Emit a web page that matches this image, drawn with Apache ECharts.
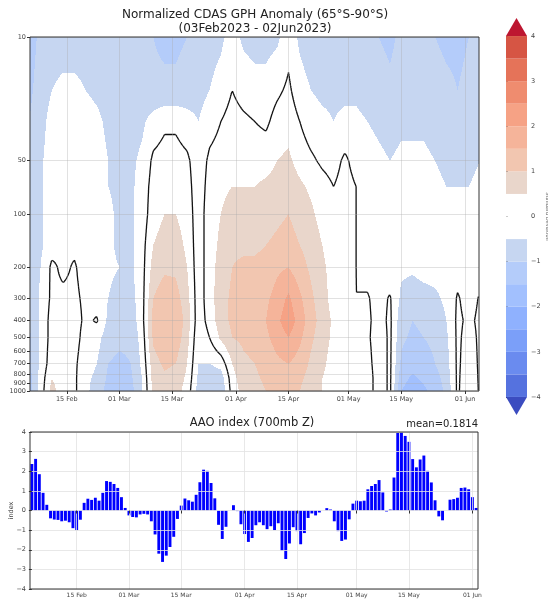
<!DOCTYPE html>
<html>
<head>
<meta charset="utf-8">
<script src="https://cdn.jsdelivr.net/npm/echarts@6/dist/echarts.min.js"></script>
<style>
html, body { margin: 0; padding: 0; background: #fff; }
#main { width: 548px; height: 599px; }
</style>
</head>
<body>
<div id="main"></div>
<script>
// anomaly grid: columns are days since 03 Feb 2023, rows are pressure levels (hPa)
const gridDays = [2,5,8,11,14,17,20,23,26,29,32,35,38,41,44,47,50,53,56,59,62,65,68,71,74,77,80,83,86,89,92,95,98,101,104,107,110,113,116,119,122];
const levels = [10,20,30,50,70,100,150,200,300,400,500,700,850,1000];

const anom10   = [-1.2,-0.9,-0.7,-0.7,-0.7,-0.7,-0.7,-0.8,-0.8,-0.8, -0.8,-1.0,-1.1,-1.1,-1.0,-0.8,-0.7,-0.6,-0.3,-0.6, -0.7,-0.7,-0.6,-0.2,-0.6,-0.8,-0.8,-0.8,-0.8,-0.8, -0.9,-1.0,-1.1,-0.9,-0.9,-0.9,-1.0,-1.1,-1.1,-1.0, -0.9];
const anom20   = [-1.1,-0.8,-0.5,-0.4,-0.4,-0.5,-0.6,-0.7,-0.8,-0.8, -0.8,-0.9,-0.9,-0.9,-0.8,-0.7,-0.5,-0.3,0.0,-0.2, -0.3,-0.3,-0.1,0.1,-0.3,-0.5,-0.6,-0.6,-0.6,-0.6, -0.7,-0.8,-0.9,-0.8,-0.7,-0.7,-0.8,-0.9,-1.0,-0.9, -0.8];
const anom30   = [-1.0,-0.7,-0.3,-0.2,-0.2,-0.3,-0.4,-0.6,-0.7,-0.7, -0.6,-0.3,-0.1,-0.1,-0.3,-0.5,-0.2,0.0,0.2,0.1, 0.0,-0.1,0.2,0.3,0.0,-0.3,-0.4,-0.5,-0.4,-0.4, -0.5,-0.6,-0.7,-0.6,-0.6,-0.6,-0.7,-0.8,-0.8,-0.8, -0.7];
const anom50   = [-1.0,-0.6,-0.2,-0.1,-0.1,-0.2,-0.3,-0.5,-0.6,-0.6, -0.4,0.1,0.2,0.2,0.1,-0.3,0.1,0.2,0.3,0.3, 0.3,0.3,0.5,0.6,0.3,0.1,-0.1,-0.2,0.1,-0.2, -0.3,-0.4,-0.5,-0.4,-0.4,-0.4,-0.5,-0.6,-0.6,-0.6, -0.5];
const anom70   = [-1.0,-0.6,-0.2,-0.1,-0.1,-0.2,-0.3,-0.5,-0.6,-0.6, -0.3,0.2,0.3,0.3,0.2,-0.3,0.2,0.4,0.5,0.5, 0.5,0.6,0.7,0.8,0.6,0.4,0.2,0.0,0.2,0.0, -0.2,-0.3,-0.4,-0.3,-0.3,-0.3,-0.4,-0.5,-0.5,-0.5, -0.4];
const anom100  = [-1.0,-0.6,-0.2,-0.1,-0.1,-0.2,-0.3,-0.4,-0.6,-0.6, -0.3,0.3,0.5,0.5,0.3,-0.3,0.3,0.5,0.7,0.7, 0.7,0.8,0.9,1.0,0.8,0.6,0.3,0.1,0.2,0.0, -0.2,-0.3,-0.3,-0.3,-0.2,-0.2,-0.3,-0.4,-0.4,-0.4, -0.3];
const anom150  = [-1.0,-0.6,-0.2,-0.1,-0.1,-0.2,-0.3,-0.4,-0.6,-0.6, -0.2,0.5,0.7,0.7,0.4,-0.3,0.3,0.6,0.9,0.9, 0.9,1.0,1.1,1.2,1.0,0.8,0.5,0.2,0.2,0.0, -0.2,-0.2,-0.3,-0.3,-0.3,-0.2,-0.3,-0.4,-0.3,-0.3, -0.3];
const anom200  = [-1.0,-0.5,0.1,-0.1,0.05,-0.2,-0.3,-0.4,-0.5,-0.6, -0.2,0.7,0.9,0.9,0.5,-0.3,0.3,0.7,1.0,1.1, 1.1,1.2,1.4,1.5,1.2,0.9,0.6,0.3,0.2,0.0, -0.2,-0.2,-0.3,-0.4,-0.4,-0.3,-0.3,-0.3,-0.2,-0.2, -0.2];
const anom300  = [-1.0,-0.4,0.1,0.1,0.1,-0.1,-0.2,-0.5,-0.7,-0.7, -0.2,1.0,1.3,1.2,0.7,-0.3,0.3,0.8,1.1,1.2, 1.3,1.4,1.7,2.1,1.6,1.1,0.7,0.3,0.2,0.0, 0.05,-0.2,0.05,-0.6,-0.8,-0.7,-0.6,-0.4,0.05,-0.2, 0.05];
const anom400  = [-1.0,-0.4,0.2,0.2,0.2,-0.1,0.05,-0.6,-0.8,-0.8, -0.2,1.2,1.5,1.4,0.8,-0.3,0.2,0.8,1.1,1.2, 1.3,1.5,1.9,2.3,1.8,1.2,0.8,0.4,0.3,0.1, 0.1,-0.2,0.1,-0.8,-1.0,-0.9,-0.8,-0.5,0.1,-0.1, 0.1];
const anom500  = [-1.1,-0.4,0.2,0.2,0.2,-0.2,-0.3,-0.8,-0.9,-0.9, -0.3,1.1,1.4,1.3,0.7,-0.4,0.0,0.6,1.0,1.1, 1.2,1.4,1.7,2.0,1.6,1.1,0.7,0.4,0.3,0.1, 0.1,-0.3,0.1,-0.9,-1.1,-1.0,-0.9,-0.6,0.1,-0.2, 0.1];
const anom700  = [-1.1,-0.4,0.3,0.2,0.1,-0.3,-0.5,-1.0,-1.1,-1.0, -0.4,0.8,1.1,1.0,0.5,-0.5,-0.5,-0.3,0.5,0.9, 1.0,1.2,1.4,1.5,1.3,0.9,0.6,0.3,0.3,0.1, 0.2,-0.3,0.1,-1.1,-1.3,-1.2,-1.0,-0.7,0.1,-0.3, 0.1];
const anom850  = [-1.2,-0.3,0.5,0.2,0.1,-0.4,-0.6,-1.1,-1.2,-1.1, -0.5,0.7,0.9,0.8,0.4,-0.6,-0.9,-0.8,0.3,0.8, 0.9,1.1,1.2,1.3,1.1,0.8,0.5,0.3,0.3,0.2, 0.3,-0.3,0.1,-1.3,-1.6,-1.4,-1.2,-0.8,0.1,-0.4, 0.1];
const anom1000 = [-1.2,-0.3,0.7,0.2,0.1,-0.4,-0.7,-1.2,-1.3,-1.2, -0.5,0.6,0.8,0.7,0.3,-0.7,-1.0,-0.9,0.2,0.7, 0.8,1.0,1.1,1.2,1.0,0.7,0.5,0.3,0.3,0.3, 0.3,-0.3,0.1,-1.5,-1.8,-1.6,-1.3,-0.9,0.1,-0.5, 0.1];
const anomRows = [anom10, anom20, anom30, anom50, anom70, anom100, anom150, anom200, anom300, anom400, anom500, anom700, anom850, anom1000];

// AAO index, one value per day from 03 Feb 2023
const aao = [
  2.37, 2.63, 1.85, 0.9, 0.29, -0.4, -0.46, -0.48, -0.55, -0.52,
  -0.6, -0.9, -1.0, -0.47, 0.39, 0.6, 0.54, 0.65, 0.5, 0.9,
  1.5, 1.46, 1.35, 1.15, 0.68, 0.13, -0.25, -0.33, -0.35, -0.2,
  -0.17, -0.2, -0.55, -1.22, -2.2, -2.62, -2.3, -1.86, -1.34, -0.43,
  0.25, 0.61, 0.52, 0.45, 0.8, 1.44, 2.08, 2.02, 1.4, 0.62,
  -0.73, -1.45, -0.83, 0.0, 0.27, -0.03, -0.7, -1.2, -1.6, -1.4,
  -0.75, -0.6, -0.75, -0.95, -0.8, -1.0, -0.65, -2.05, -2.47, -1.68,
  -0.85, -1.05, -1.72, -1.15, -0.38, -0.15, -0.25, -0.1, 0.0, 0.12,
  0.05, -0.55, -1.05, -1.55, -1.48, -0.45, 0.35, 0.5, 0.47, 0.5,
  1.08, 1.25, 1.35, 1.55, 0.92, -0.05, 0.05, 1.68, 3.95, 4.0,
  3.8, 3.5, 2.62, 2.2, 2.6, 2.8, 2.02, 1.43, 0.52, -0.3,
  -0.5, 0.0, 0.55, 0.58, 0.65, 1.15, 1.17, 1.08, 0.68, 0.13
];

const tickDays = [12, 26, 40, 57, 71, 87, 101, 118];
const tickLabels = ['15 Feb', '01 Mar', '15 Mar', '01 Apr', '15 Apr', '01 May', '15 May', '01 Jun'];
const pTicks = [10, 50, 100, 200, 300, 400, 500, 600, 700, 800, 900, 1000];
const cbTicks = [-4, -3, -2, -1, 0, 1, 2, 3, 4];
const bandEdges = [-4, -3.5, -3, -2.5, -2, -1.5, -1, -0.5, 0, 0.5, 1, 1.5, 2, 2.5, 3, 3.5, 4];
const bandColors = [
  '#3b4cc0', '#5572df', '#6a8bef', '#7b9ff9', '#8fb1fe', '#a2c0fe', '#b4ccfa', '#c6d6f1',
  '#ffffff', '#ffffff',
  '#e9d6cb', '#f2c6b0', '#f5b49a', '#f6a285', '#ef8c6f', '#e57359', '#d65544', '#bd1630'
];

const FONT = 'DejaVu Sans';
const minus = s => String(s).replace('-', '\u2212');

function bandIndex(v) {
  for (let k = 0; k < bandEdges.length; k++) if (v < bandEdges[k]) return k;
  return bandEdges.length;
}

function locate(nodes, pos) {
  let k = 0;
  while (k < nodes.length - 2 && pos > nodes[k + 1]) k++;
  const t = (pos - nodes[k]) / (nodes[k + 1] - nodes[k]);
  return [k, Math.max(0, Math.min(1, t))];
}

// filled levels (bilinear between grid nodes) + zero contour line
function renderField(params, api) {
  const cs = params.coordSys;
  const W = Math.round(cs.width), H = Math.round(cs.height);
  const xs = gridDays.map(d => api.coord([d, 2])[0]);
  const ys = levels.map(p => api.coord([gridDays[0], Math.log10(p)])[1]);
  const colLoc = [], rowLoc = [];
  for (let px = 0; px < W; px++) colLoc.push(locate(xs, cs.x + px + 0.5));
  for (let py = 0; py < H; py++) rowLoc.push(locate(ys, cs.y + py + 0.5));

  const rgb = bandColors.map(h => [parseInt(h.slice(1, 3), 16), parseInt(h.slice(3, 5), 16), parseInt(h.slice(5, 7), 16)]);
  const canvas = document.createElement('canvas');
  canvas.width = W; canvas.height = H;
  const ctx = canvas.getContext('2d');
  const img = ctx.createImageData(W, H);
  const vals = new Float32Array(W * H);
  for (let py = 0; py < H; py++) {
    const j = rowLoc[py][0], ty = rowLoc[py][1];
    const r0 = anomRows[j], r1 = anomRows[j + 1];
    for (let px = 0; px < W; px++) {
      const i = colLoc[px][0], tx = colLoc[px][1];
      const v = (r0[i] * (1 - tx) + r0[i + 1] * tx) * (1 - ty) + (r1[i] * (1 - tx) + r1[i + 1] * tx) * ty;
      vals[py * W + px] = v;
      const c = rgb[bandIndex(v)];
      const o = (py * W + px) * 4;
      img.data[o] = c[0]; img.data[o + 1] = c[1]; img.data[o + 2] = c[2]; img.data[o + 3] = 255;
    }
  }
  ctx.putImageData(img, 0, 0);

  let path = '';
  const ox = cs.x + 0.5, oy = cs.y + 0.5;
  const f = (x, y) => (ox + x).toFixed(1) + ' ' + (oy + y).toFixed(1);
  for (let py = 0; py < H - 1; py++) {
    for (let px = 0; px < W - 1; px++) {
      const a = vals[py * W + px], b = vals[py * W + px + 1];
      const c = vals[(py + 1) * W + px + 1], d = vals[(py + 1) * W + px];
      const pts = [];
      if ((a >= 0) !== (b >= 0)) pts.push([px + a / (a - b), py]);
      if ((b >= 0) !== (c >= 0)) pts.push([px + 1, py + b / (b - c)]);
      if ((d >= 0) !== (c >= 0)) pts.push([px + d / (d - c), py + 1]);
      if ((a >= 0) !== (d >= 0)) pts.push([px, py + a / (a - d)]);
      for (let k = 0; k + 1 < pts.length; k += 2) {
        path += 'M' + f(pts[k][0], pts[k][1]) + 'L' + f(pts[k + 1][0], pts[k + 1][1]);
      }
    }
  }
  return {
    type: 'group',
    children: [
      { type: 'image', style: { image: canvas, x: cs.x, y: cs.y, width: W, height: H } },
      { type: 'path', shape: { pathData: path || 'M0 0' }, style: { fill: 'none', stroke: '#111', lineWidth: 1.3 } }
    ]
  };
}

function renderBand(params, api) {
  const k = api.value(0);
  const color = bandColors[k];
  const last = bandColors.length - 1;
  if (k === 0 || k === last) {
    const edge = k === 0 ? bandEdges[0] : bandEdges[bandEdges.length - 1];
    const tip = k === 0 ? edge - 0.4 : edge + 0.4;
    return { type: 'polygon', shape: { points: [api.coord([0, edge]), api.coord([1, edge]), api.coord([0.5, tip])] }, style: { fill: color } };
  }
  const p1 = api.coord([0, bandEdges[k]]), p2 = api.coord([1, bandEdges[k - 1]]);
  return { type: 'rect', shape: { x: p1[0], y: p1[1], width: p2[0] - p1[0], height: p2[1] - p1[1] }, style: { fill: color } };
}

const dateLabel = v => tickLabels[tickDays.indexOf(Math.round(v))] || '';
const smallText = { fontSize: 6.5, color: '#444', fontFamily: FONT };
const titleText = { fontSize: 12, fontWeight: 'normal', color: '#222', lineHeight: 14, fontFamily: FONT };

const chart = echarts.init(document.getElementById('main'));
chart.setOption({
  animation: false,
  backgroundColor: '#fff',
  textStyle: { fontFamily: FONT },
  title: [
    { text: 'Normalized CDAS GPH Anomaly (65°S-90°S)\n(03Feb2023 - 02Jun2023)', left: 255, top: 8, textAlign: 'center', padding: 0, textStyle: titleText },
    { text: 'AAO index (700mb Z)', left: 252, top: 416, textAlign: 'center', padding: 0, textStyle: { ...titleText, fontSize: 11.5 } },
    { text: 'mean=0.1814', right: 70, top: 418, padding: 0,
      textStyle: { fontSize: 10, fontWeight: 'normal', color: '#222', lineHeight: 12, fontFamily: FONT } }
  ],
  grid: [
    { left: 30, top: 37, width: 449, height: 354, outerBoundsMode: 'none', containLabel: false, show: true, borderColor: '#333', borderWidth: 1, backgroundColor: 'transparent', z: 5 },
    { left: 30, top: 432, width: 448, height: 157, outerBoundsMode: 'none', containLabel: false, show: true, borderColor: '#333', borderWidth: 1, backgroundColor: 'transparent', z: 5 },
    { left: 506, top: 18, width: 21, height: 397, outerBoundsMode: 'none', containLabel: false }
  ],
  xAxis: [
    { type: 'value', gridIndex: 0, min: 2.2, max: 121.7, z: 4,
      axisLine: { show: false },
      axisTick: { show: true, customValues: tickDays, length: 3, lineStyle: { color: '#333' } },
      axisLabel: { customValues: tickDays, formatter: dateLabel, margin: 5, ...smallText },
      splitLine: { show: true, lineStyle: { color: 'rgba(170,170,170,0.45)', width: 0.8 } } },
    { type: 'value', gridIndex: 1, min: -0.5, max: 119.5, z: 4,
      axisLine: { show: false },
      axisTick: { show: true, customValues: tickDays, length: 3, lineStyle: { color: '#333' } },
      axisLabel: { customValues: tickDays, formatter: dateLabel, margin: 3, ...smallText, fontSize: 6 },
      splitLine: { show: true, lineStyle: { color: '#e2e2e2', width: 0.8 } } },
    { type: 'value', gridIndex: 2, min: 0, max: 1, show: false }
  ],
  yAxis: [
    { type: 'value', gridIndex: 0, min: 1, max: 3, inverse: true, z: 4,
      axisLine: { show: false },
      axisTick: { show: true, customValues: pTicks.map(p => Math.log10(p)), length: 3, lineStyle: { color: '#333' } },
      axisLabel: { customValues: pTicks.map(p => Math.log10(p)), formatter: v => String(Math.round(Math.pow(10, v))), margin: 4, ...smallText },
      splitLine: { show: true, lineStyle: { color: 'rgba(170,170,170,0.45)', width: 0.8 } } },
    { type: 'value', gridIndex: 1, min: -4, max: 4, interval: 1, z: 4,
      name: 'index', nameLocation: 'middle', nameGap: 15, nameMoveOverlap: false, nameTextStyle: smallText,
      axisLine: { show: false },
      axisTick: { show: true, length: 3, lineStyle: { color: '#333' } },
      axisLabel: { formatter: v => minus(v), margin: 4, ...smallText },
      splitLine: { show: true, lineStyle: { color: '#e2e2e2', width: 0.8 } } },
    { type: 'value', gridIndex: 2, min: -4.4, max: 4.4, position: 'right',
      name: 'Standard Deviation', nameLocation: 'middle', nameGap: 13, nameRotate: -90,
      nameTextStyle: { fontSize: 5, color: '#666', fontFamily: FONT },
      axisLine: { show: false },
      axisTick: { show: true, customValues: cbTicks, length: 2, lineStyle: { color: '#333' } },
      axisLabel: { customValues: cbTicks, formatter: v => minus(v), margin: 4, ...smallText },
      splitLine: { show: false } }
  ],
  series: [
    { type: 'custom', xAxisIndex: 0, yAxisIndex: 0, coordinateSystem: 'cartesian2d', clip: true, silent: true,
      renderItem: renderField, data: [[gridDays[0], 1]] },
    { type: 'bar', xAxisIndex: 1, yAxisIndex: 1, barWidth: 2.9, silent: true,
      itemStyle: { color: '#0000ff' },
      data: aao.map((v, i) => [i, v]) },
    { type: 'custom', xAxisIndex: 2, yAxisIndex: 2, coordinateSystem: 'cartesian2d', silent: true,
      renderItem: renderBand, data: bandColors.map((c, k) => [k]) }
  ]
});
</script>
</body>
</html>
